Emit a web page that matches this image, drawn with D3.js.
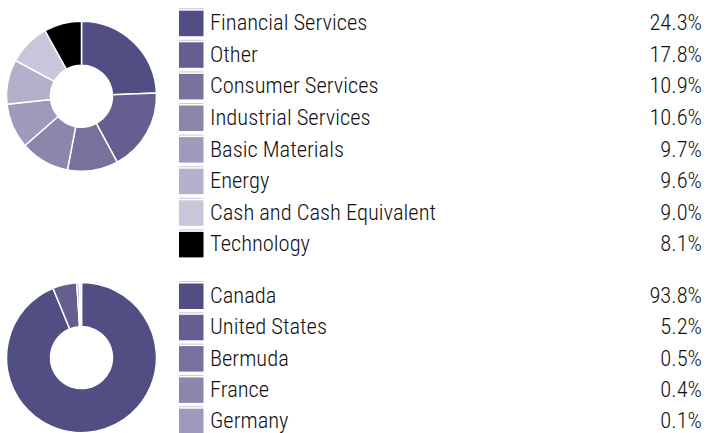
<!DOCTYPE html>
<html>
<head>
<meta charset="utf-8">
<script src="https://cdn.jsdelivr.net/npm/d3@7"></script>
<style>
  html, body { margin: 0; padding: 0; background: #ffffff; }
  svg { display: block; }
  text { font-family: Roboto, "Liberation Sans", sans-serif; font-stretch: condensed; font-weight: 300; }
</style>
</head>
<body>
<svg id="chart" width="707" height="433"></svg>
<script>
// Sector breakdown
const sectorNames = ["Financial Services", "Other", "Consumer Services", "Industrial Services",
  "Basic Materials", "Energy", "Cash and Cash Equivalent", "Technology"];
const sectorValues = [24.3, 17.8, 10.9, 10.6, 9.7, 9.6, 9.0, 8.1];

// Country breakdown
const countryNames = ["Canada", "United States", "Bermuda", "France", "Germany"];
const countryValues = [93.8, 5.2, 0.5, 0.4, 0.1];

// Shared palette, darkest first
const palette = ["#514e83", "#645f90", "#76719d", "#8a87ab", "#9d9abb", "#b2b0cb", "#c8c6da", "#000000"];

const svg = d3.select("#chart");

const pie = d3.pie().sort(null).value(d => d.value);
const arc = d3.arc().innerRadius(31).outerRadius(75);
const fmt = d3.format(".1f");

function drawGroup(names, values, cy, rowTop, pitch) {
  const data = names.map((n, i) => ({ name: n, value: values[i], color: palette[i] }));

  // donut
  const g = svg.append("g").attr("transform", `translate(81.5,${cy})`);
  g.selectAll("path")
    .data(pie(data))
    .join("path")
    .attr("d", arc)
    .attr("fill", d => d.data.color)
    .attr("stroke", "#ffffff")
    .attr("stroke-width", 1.5)
    .attr("stroke-linejoin", "round");

  // legend rows
  const y = d3.scaleLinear().domain([0, 1]).range([rowTop, rowTop + pitch]);
  const rows = svg.append("g").selectAll("g")
    .data(data)
    .join("g")
    .attr("transform", (d, i) => `translate(0,${y(i)})`);

  rows.append("rect")
    .attr("x", 179).attr("y", -2.5).attr("width", 24.5).attr("height", 1)
    .attr("fill", "#c9c7dc");
  rows.append("rect")
    .attr("x", 179).attr("y", 0).attr("width", 24.5).attr("height", 25.5)
    .attr("fill", d => d.color);
  rows.append("text")
    .attr("x", 210).attr("y", 19.5)
    .attr("font-size", 22.5)
    .attr("fill", "#111111")
    .text(d => d.name);
  rows.append("text")
    .attr("x", 702).attr("y", 19.5)
    .attr("text-anchor", "end")
    .attr("font-size", 22.5)
    .attr("fill", "#111111")
    .text(d => fmt(d.value) + "%");
}

drawGroup(sectorNames, sectorValues, 96.2, 10.7, 31.6);
drawGroup(countryNames, countryValues, 357.6, 283.5, 31.3);
</script>
</body>
</html>
